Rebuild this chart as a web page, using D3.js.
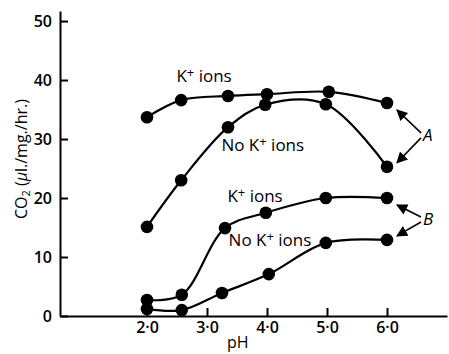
<!DOCTYPE html>
<html>
<head>
<meta charset="utf-8">
<script src="https://cdn.jsdelivr.net/npm/d3@7"></script>
<style>
  body { margin: 0; background: #fff; }
  svg text { font-family: "Open Sans", Lato, sans-serif; fill: #000; }
</style>
</head>
<body>
<div id="chart"></div>
<script>
// pH values and CO2 output
const phA = [2.0, 2.57, 3.35, 4.0, 5.03, 6.0];
const kA = [33.7, 36.6, 37.3, 37.6, 38.0, 36.1];
const phA2 = [2.0, 2.57, 3.35, 3.97, 4.98, 6.0];
const noKA = [15.1, 23.0, 32.0, 35.8, 35.9, 25.3];
const phB = [2.0, 2.58, 3.3, 3.98, 4.98, 6.0];
const kB = [2.7, 3.6, 14.9, 17.5, 20.0, 20.0];
const phB2 = [2.0, 2.58, 3.25, 4.03, 4.98, 6.0];
const noKB = [1.2, 1.0, 3.9, 7.1, 12.4, 12.9];
const xTicks = [2, 3, 4, 5, 6];
const yTicks = [0, 10, 20, 30, 40, 50];

const width = 449, height = 354;
const svg = d3.select('#chart')
    .append('svg')
    .attr('width', width)
    .attr('height', height);

const x = d3.scaleLinear().domain([0.55, 7.0]).range([60, 447]);
const y = d3.scaleLinear().domain([0, 51.7]).range([316, 11]);

// axes, ticks point inward
const xAxis = svg.append('g')
    .attr('transform', `translate(0,${y(0)})`)
    .call(d3.axisBottom(x).tickValues(xTicks).tickSizeInner(-8).tickSizeOuter(0).tickPadding(6)
        .tickFormat(d => d.toFixed(1).replace('.', '·')));
const yAxis = svg.append('g')
    .attr('transform', `translate(${x(0.55)},0)`)
    .call(d3.axisLeft(y).tickValues(yTicks).tickSizeInner(-8).tickSizeOuter(0).tickPadding(8));

[xAxis, yAxis].forEach(a => {
    a.select('.domain').attr('stroke', '#000').attr('stroke-width', 2);
    a.selectAll('.tick line').attr('stroke', '#000').attr('stroke-width', 2);
    a.selectAll('.tick text')
        .style('font-size', '16px')
        .style('font-weight', '600')
        .style('font-family', '"Open Sans", sans-serif');
});

svg.append('text')
    .attr('x', x(4.0) - 40)
    .attr('y', 348)
    .style('font-size', '16px')
    .text('pH');

svg.append('text')
    .attr('transform', `translate(27,${y(26.6)}) rotate(-90)`)
    .attr('text-anchor', 'middle')
    .style('font-size', '16px')
    .html('CO<tspan font-size="11px" dy="3">2</tspan><tspan dy="-3"> (</tspan><tspan font-style="italic">µ</tspan>l./mg./hr.)');

// curves
const series = [
    { ph: phA, v: kA },
    { ph: phA2, v: noKA },
    { ph: phB, v: kB },
    { ph: phB2, v: noKB }
];

const line = d3.line()
    .x(d => x(d[0]))
    .y(d => y(d[1]))
    .curve(d3.curveCatmullRom.alpha(0.5));

series.forEach(s => {
    const pts = s.ph.map((p, i) => [p, s.v[i]]);
    svg.append('path')
        .datum(pts)
        .attr('d', line)
        .attr('fill', 'none')
        .attr('stroke', '#000')
        .attr('stroke-width', 2.2);
    svg.append('g')
        .selectAll('circle')
        .data(pts)
        .enter()
        .append('circle')
        .attr('cx', d => x(d[0]))
        .attr('cy', d => y(d[1]))
        .attr('r', 6.3)
        .attr('fill', '#000');
});

// curve labels
const labels = [
    { ph: 2.49, v: 39.7, main: 'K', rest: ' ions' },
    { ph: 3.24, v: 27.9, main: 'No K', rest: ' ions' },
    { ph: 3.34, v: 19.4, main: 'K', rest: ' ions' },
    { ph: 3.36, v: 11.9, main: 'No K', rest: ' ions' }
];
labels.forEach(l => {
    const t = svg.append('text')
        .attr('x', x(l.ph))
        .attr('y', y(l.v))
        .style('font-size', '17px');
    t.append('tspan').text(l.main);
    t.append('tspan').attr('dy', -5).style('font-size', '13px').text('+');
    t.append('tspan').attr('dy', 5).text(l.rest);
});

// arrows to pairs A and B
svg.append('defs').append('marker')
    .attr('id', 'head')
    .attr('viewBox', '0 0 10 10')
    .attr('refX', 9).attr('refY', 5)
    .attr('markerWidth', 7).attr('markerHeight', 7)
    .attr('orient', 'auto')
    .append('path')
    .attr('d', 'M0,0 L10,5 L0,10 z')
    .attr('fill', '#000');

const groups = [
    { name: 'A', top: kA[5], bottom: noKA[5] },
    { name: 'B', top: kB[5], bottom: noKB[5] }
];
groups.forEach(g => {
    const lx = x(6.0) + 36, ly = y((g.top + g.bottom) / 2) + 6;
    svg.append('text')
        .attr('x', lx)
        .attr('y', ly)
        .style('font-size', '17px')
        .style('font-style', 'italic')
        .text(g.name);
    [g.top, g.bottom].forEach((v, i) => {
        svg.append('line')
            .attr('x1', lx - 2)
            .attr('y1', ly - 8 + i * 5)
            .attr('x2', x(6.0) + 10)
            .attr('y2', y(v) + (i === 0 ? 7 : -4))
            .attr('stroke', '#000')
            .attr('stroke-width', 1.6)
            .attr('marker-end', 'url(#head)');
    });
});
</script>
</body>
</html>
